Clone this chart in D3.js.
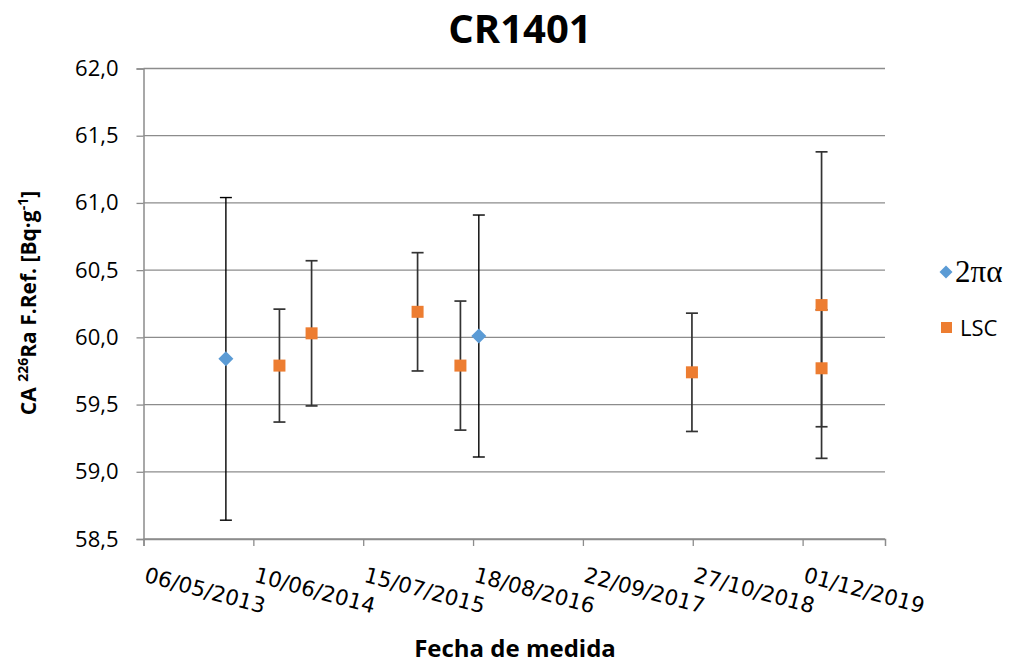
<!doctype html>
<html lang="es">
<head>
<meta charset="utf-8" />
<title>CR1401</title>
<script src="https://d3js.org/d3.v7.min.js"></script>
<style>
  body { margin: 0; background: #fff; }
  svg { display: block; }
</style>
</head>
<body>
<svg></svg>
<script>
// values: [date, value, uncertainty]
const alphaDates = ["2014-03-02", "2016-09-08"];
const alphaValues = [59.84, 60.01];
const alphaErrors = [1.20, 0.90];

const lscDates = ["2014-09-13", "2015-01-08", "2016-01-29", "2016-07-03", "2018-10-24", "2020-02-08", "2020-02-08"];
const lscValues = [59.79, 60.03, 60.19, 59.79, 59.74, 60.24, 59.77];
const lscErrors = [0.42, 0.54, 0.44, 0.48, 0.44, 1.14, 0.435];

const xTickLabels = ["06/05/2013", "10/06/2014", "15/07/2015", "18/08/2016", "22/09/2017", "27/10/2018", "01/12/2019"];
const yTicks = [58.5, 59.0, 59.5, 60.0, 60.5, 61.0, 61.5, 62.0];

let width = 1023,
    height = 663;

const parseIso = d3.utcParse("%Y-%m-%d");
const parseDmy = d3.utcParse("%d/%m/%Y");

const svg = d3.select("svg")
    .attr("width", width)
    .attr("height", height);

const x = d3.scaleUtc()
    .domain([parseDmy("06/05/2013"), parseDmy("26/09/2020")])
    .range([143.5, 885]);

const y = d3.scaleLinear()
    .domain([58.5, 62.0])
    .range([539, 68.5]);

const gridColor = "#8c8c8c";

// gridlines
svg.append("g")
    .selectAll("line")
    .data(yTicks)
    .join("line")
        .attr("x1", x.range()[0])
        .attr("x2", x.range()[1])
        .attr("y1", d => y(d))
        .attr("y2", d => y(d))
        .attr("stroke", gridColor)
        .attr("stroke-width", 1.3);

// y axis
const yAxis = svg.append("g")
    .attr("transform", `translate(${x.range()[0]},0)`)
    .call(d3.axisLeft(y).tickValues(yTicks).tickSize(7).tickPadding(18)
        .tickFormat(d => d3.format(".1f")(d).replace(".", ",")));
yAxis.select(".domain").attr("stroke", gridColor).attr("stroke-width", 1.5);
yAxis.selectAll(".tick line").attr("stroke", gridColor).attr("stroke-width", 1.3);
yAxis.selectAll(".tick text")
    .attr("fill", "#000")
    .style("font-family", "'Open Sans', sans-serif")
    .style("font-size", "22px");

// x axis
const xTickDates = xTickLabels.map(parseDmy);
const xAxis = svg.append("g")
    .attr("transform", `translate(0,${y.range()[0]})`)
    .call(d3.axisBottom(x).tickValues(xTickDates).tickSize(7).tickFormat(""));
xAxis.select(".domain").attr("stroke", gridColor).attr("stroke-width", 1.5);
xAxis.selectAll(".tick line").attr("stroke", gridColor).attr("stroke-width", 1.3);

svg.append("g")
    .selectAll("text")
    .data(xTickDates)
    .join("text")
        .attr("transform", d => `translate(${x(d) + 4},566) rotate(15)`)
        .attr("dy", "0.75em")
        .style("font-family", "'DejaVu Sans', sans-serif")
        .style("font-size", "21.5px")
        .attr("fill", "#000")
        .text((d, i) => xTickLabels[i]);

// series
function errorBars(dates, values, errors, color, w) {
    const g = svg.append("g");
    const pts = dates.map((d, i) => ({ date: parseIso(d), v: values[i], e: errors[i] }));
    const bars = g.selectAll("g").data(pts).join("g").attr("stroke", color).attr("stroke-width", w);
    bars.append("line")
        .attr("x1", d => x(d.date)).attr("x2", d => x(d.date))
        .attr("y1", d => y(d.v + d.e)).attr("y2", d => y(d.v - d.e));
    bars.append("line")
        .attr("x1", d => x(d.date) - 6).attr("x2", d => x(d.date) + 6)
        .attr("y1", d => y(d.v + d.e)).attr("y2", d => y(d.v + d.e));
    bars.append("line")
        .attr("x1", d => x(d.date) - 6).attr("x2", d => x(d.date) + 6)
        .attr("y1", d => y(d.v - d.e)).attr("y2", d => y(d.v - d.e));
    return pts;
}

const alphaPts = errorBars(alphaDates, alphaValues, alphaErrors, "#000", 1.4);
const lscPts = errorBars(lscDates, lscValues, lscErrors, "#333", 1.7);

svg.append("g")
    .selectAll("path")
    .data(alphaPts)
    .join("path")
        .attr("d", "M0,-7.5L7.5,0L0,7.5L-7.5,0Z")
        .attr("transform", d => `translate(${x(d.date)},${y(d.v)})`)
        .attr("fill", "#5B9BD5");

svg.append("g")
    .selectAll("rect")
    .data(lscPts)
    .join("rect")
        .attr("x", d => x(d.date) - 6)
        .attr("y", d => y(d.v) - 6)
        .attr("width", 12)
        .attr("height", 12)
        .attr("fill", "#ED7D31");

// title
svg.append("text")
    .attr("x", 520)
    .attr("y", 43)
    .attr("text-anchor", "middle")
    .style("font-family", "'Open Sans', sans-serif")
    .style("font-weight", "bold")
    .style("font-size", "40px")
    .text("CR1401");

// x title
svg.append("text")
    .attr("x", 515)
    .attr("y", 657)
    .attr("text-anchor", "middle")
    .style("font-family", "'Open Sans', sans-serif")
    .style("font-weight", "bold")
    .style("font-size", "24px")
    .text("Fecha de medida");

// y title
const yt = svg.append("text")
    .attr("transform", "translate(36,303) rotate(-90)")
    .attr("text-anchor", "middle")
    .style("font-family", "'Open Sans', sans-serif")
    .style("font-weight", "bold")
    .style("font-size", "21px");
yt.append("tspan").text("CA ");
yt.append("tspan").attr("dy", -8).style("font-size", "14px").text("226");
yt.append("tspan").attr("dy", 8).text("Ra F.Ref. [Bq·g");
yt.append("tspan").attr("dy", -8).style("font-size", "14px").text("-1");
yt.append("tspan").attr("dy", 8).text("]");

// legend
const legend = svg.append("g");
legend.append("path")
    .attr("d", "M0,-6.5L6.5,0L0,6.5L-6.5,0Z")
    .attr("transform", "translate(946,272)")
    .attr("fill", "#5B9BD5");
legend.append("text")
    .attr("x", 955).attr("y", 282)
    .style("font-family", "'Liberation Serif', 'Times New Roman', serif")
    .style("font-size", "31px")
    .text("2πα");
legend.append("rect")
    .attr("x", 941).attr("y", 322).attr("width", 11).attr("height", 11)
    .attr("fill", "#ED7D31");
legend.append("text")
    .attr("x", 960).attr("y", 336)
    .style("font-family", "'Open Sans', sans-serif")
    .style("font-size", "22px")
    .text("LSC");
</script>
</body>
</html>
